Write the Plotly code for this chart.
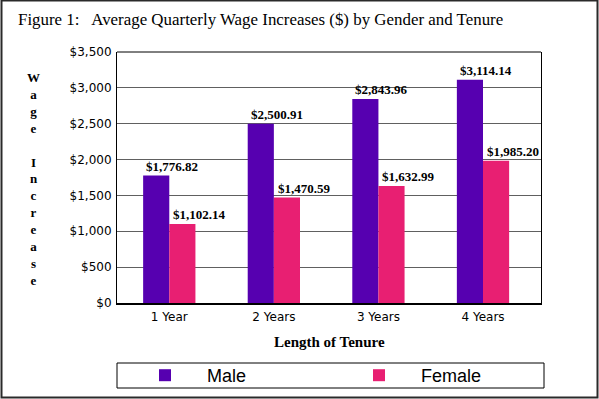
import plotly.graph_objects as go

categories = ["1 Year", "2 Years", "3 Years", "4 Years"]
male = [1776.82, 2500.91, 2843.96, 3114.14]
female = [1102.14, 1470.59, 1632.99, 1985.20]
y_ticks = [0, 500, 1000, 1500, 2000, 2500, 3000, 3500]
y_tick_labels = ["$0", "$500", "$1,000", "$1,500", "$2,000", "$2,500", "$3,000", "$3,500"]

MALE_C = "#5600B0"
FEMALE_C = "#E81F72"

fig = go.Figure()
fig.add_trace(go.Bar(name="Male", x=categories, y=male, marker=dict(color=MALE_C, line=dict(width=0)),
                     legend="legend"))
fig.add_trace(go.Bar(name="Female", x=categories, y=female, marker=dict(color=FEMALE_C, line=dict(width=0)),
                     legend="legend2"))

W, H = 599, 399
L, R, T, B = 117, 58, 52, 96
pw, ph = W - L - R, H - T - B

def px(xp):
    return (xp - L) / pw

def py(yp):
    return (H - B - yp) / ph

annotations = []
lab_font = dict(family="Liberation Serif", size=13, color="black")
for c, v in zip(categories, male):
    annotations.append(dict(x=c, y=v, xref="x", yref="y", text="<b>$%s</b>" % format(v, ",.2f"),
                            showarrow=False, xanchor="left", yanchor="bottom", xshift=-25, font=lab_font))
for c, v in zip(categories, female):
    annotations.append(dict(x=c, y=v, xref="x", yref="y", text="<b>$%s</b>" % format(v, ",.2f"),
                            showarrow=False, xanchor="left", yanchor="bottom", xshift=2, font=lab_font))

annotations.append(dict(x=px(16), y=py(20), xref="paper", yref="paper", xanchor="left", yanchor="middle",
                        text="Figure 1:&nbsp;&nbsp; Average Quarterly Wage Increases ($) by Gender and Tenure",
                        showarrow=False, font=dict(family="Liberation Serif", size=16.9, color="black")))
annotations.append(dict(x=px(329), y=py(342), xref="paper", yref="paper", xanchor="center", yanchor="middle",
                        text="<b>Length of Tenure</b>", showarrow=False,
                        font=dict(family="Liberation Serif", size=15, color="black")))
annotations.append(dict(x=px(33), y=py(178.5), xref="paper", yref="paper", xanchor="center", yanchor="middle",
                        text="<b>" + "<br>".join(list("Wage") + ["&nbsp;"] + list("Increase")) + "</b>",
                        showarrow=False, font=dict(family="Liberation Serif", size=13, color="black")))

shapes = [
    dict(type="rect", xref="paper", yref="paper", x0=px(1.5), x1=px(597.5), y0=py(397.5), y1=py(0.5),
         line=dict(color="#2a2a2a", width=2)),
    dict(type="line", xref="paper", yref="paper", x0=0, x1=1, y0=1, y1=1, line=dict(color="black", width=1)),
    dict(type="rect", xref="paper", yref="paper", x0=px(117), x1=px(544), y0=py(388), y1=py(363),
         line=dict(color="black", width=1)),
]

leg_common = dict(orientation="h", xanchor="left", yanchor="middle", borderwidth=0,
                  xref="container", yref="container",
                  bgcolor="rgba(0,0,0,0)",
                  font=dict(family="Liberation Sans", size=18, color="black"),
                  itemwidth=74, itemclick=False, itemdoubleclick=False)

fig.update_layout(
    width=W, height=H,
    margin=dict(l=L, r=R, t=T, b=B, autoexpand=False),
    paper_bgcolor="white", plot_bgcolor="white",
    barmode="group", bargap=0.5, bargroupgap=0,
    showlegend=True,
    legend=dict(x=123 / W, y=1 - 375.5 / H, **leg_common),
    legend2=dict(x=337 / W, y=1 - 375.5 / H, **leg_common),
    xaxis=dict(showline=True, linecolor="black", linewidth=2, showgrid=False, ticks="",
               tickfont=dict(family="DejaVu Sans", size=12, color="black"), ticklabelstandoff=2),
    yaxis=dict(range=[0, 3500], tickvals=y_ticks, ticktext=y_tick_labels, showline=True, mirror=True,
               linecolor="black", linewidth=1, showgrid=True, gridcolor="#606060", gridwidth=1,
               zeroline=False, ticks="", ticklabelstandoff=2,
               tickfont=dict(family="DejaVu Sans", size=12, color="black")),
    annotations=annotations,
    shapes=shapes,
)

fig.write_html("out.html", config={"displayModeBar": False},
               post_script="document.body.style.margin='0';document.body.style.overflow='hidden';")
